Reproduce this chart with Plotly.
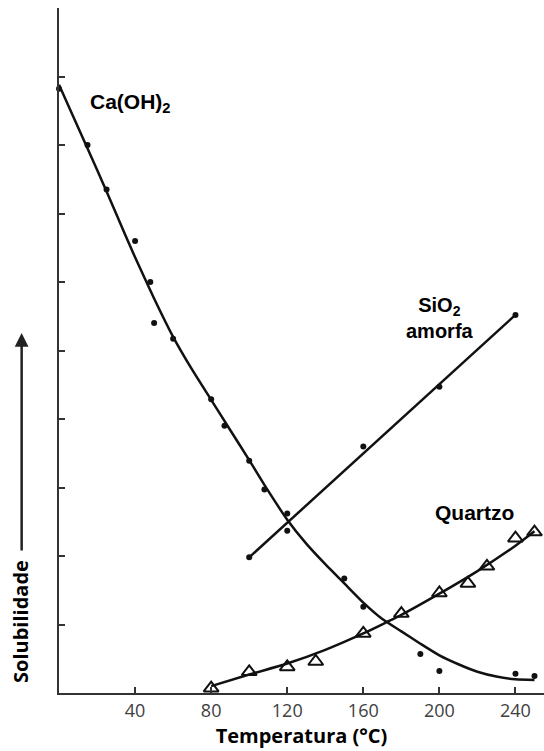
import plotly.graph_objects as go

# Measured solubility points (relative units) vs temperature (°C)
caoh2_t = [0, 15, 25, 40, 48, 50, 60, 80, 87, 100, 108, 120, 150, 160, 190, 200, 240, 250]
caoh2_s = [8.82, 8.0, 7.35, 6.60, 6.0, 5.40, 5.17, 4.29, 3.90, 3.39, 2.97, 2.62, 1.67, 1.26, 0.57, 0.32, 0.28, 0.25]

sio2_t = [100, 120, 160, 200, 240]
sio2_s = [1.98, 2.37, 3.60, 4.47, 5.52]

quartz_t = [80, 100, 120, 135, 160, 180, 200, 215, 225, 240, 250]
quartz_s = [0.07, 0.31, 0.38, 0.46, 0.87, 1.16, 1.46, 1.60, 1.85, 2.26, 2.35]

# Smoothed trend curves
caoh2_fit_t = [0, 10, 20, 30, 40, 50, 60, 70, 80, 90, 100, 110, 120, 130, 140,
               150, 160, 170, 180, 190, 200, 210, 220, 230, 240, 250]
caoh2_fit_s = [8.88, 8.26, 7.64, 7.00, 6.36, 5.76, 5.20, 4.72, 4.28, 3.84, 3.40, 2.95, 2.53,
               2.18, 1.88, 1.60, 1.32, 1.08, 0.90, 0.72, 0.55, 0.42, 0.31, 0.24, 0.20, 0.19]

sio2_fit_t = [100, 240]
sio2_fit_s = [1.98, 5.52]

quartz_fit_t = [80, 100, 120, 140, 160, 172, 180, 200, 220, 240, 250]
quartz_fit_s = [0.10, 0.27, 0.43, 0.63, 0.87, 1.03, 1.14, 1.45, 1.78, 2.15, 2.36]

x_ticks = [40, 80, 120, 160, 200, 240]
y_ticks = [1, 2, 3, 4, 5, 6, 7, 8, 9, 10]

INK = "#111111"
AXIS = "#333333"

fig = go.Figure()

fig.add_trace(go.Scatter(x=caoh2_fit_t, y=caoh2_fit_s, mode="lines",
                         line=dict(color=INK, width=2.5, shape="spline", smoothing=0.6),
                         hoverinfo="skip"))
fig.add_trace(go.Scatter(x=sio2_fit_t, y=sio2_fit_s, mode="lines",
                         line=dict(color=INK, width=2.5), hoverinfo="skip"))
fig.add_trace(go.Scatter(x=quartz_fit_t, y=quartz_fit_s, mode="lines",
                         line=dict(color=INK, width=2.5, shape="spline", smoothing=0.8),
                         hoverinfo="skip"))

fig.add_trace(go.Scatter(x=caoh2_t, y=caoh2_s, mode="markers", cliponaxis=False,
                         marker=dict(symbol="circle", size=6, color=INK)))
fig.add_trace(go.Scatter(x=sio2_t, y=sio2_s, mode="markers", cliponaxis=False,
                         marker=dict(symbol="circle", size=6, color=INK)))
fig.add_trace(go.Scatter(x=quartz_t, y=quartz_s, mode="markers", cliponaxis=False,
                         marker=dict(symbol="triangle-up-open", size=13, color=INK,
                                     line=dict(width=2, color=INK))))

label_font = dict(family="Liberation Sans, Arial, sans-serif", size=21, color="#000000")

fig.add_annotation(x=15, y=8.62, text="<b>Ca(OH)<sub>2</sub></b>", showarrow=False,
                   xanchor="left", yanchor="middle", font=label_font)
fig.add_annotation(x=200.5, y=5.47, text="<b>SiO<sub>2</sub><br>amorfa</b>", showarrow=False,
                   xanchor="center", yanchor="middle", align="center",
                   font=dict(label_font, size=20))
fig.add_annotation(x=218.5, y=2.64, text="<b>Quartzo</b>", showarrow=False,
                   xanchor="center", yanchor="middle", font=label_font)

# Vertical axis caption with an upward arrow
fig.add_annotation(xref="paper", yref="paper", x=-0.078, y=0.104,
                   text="<b>Solubilidade</b>", textangle=-90, showarrow=False,
                   xanchor="center", yanchor="middle",
                   font=dict(family="Open Sans, sans-serif", size=20, color="#000000"))
fig.add_annotation(xref="paper", yref="paper", x=-0.077, y=0.5255,
                   axref="pixel", ayref="pixel", ax=0, ay=219, text="",
                   showarrow=True, arrowhead=2, arrowsize=1.1, arrowwidth=2.5,
                   arrowcolor="#222222")

fig.update_layout(
    width=544, height=751,
    margin=dict(l=59, r=0, t=8, b=58),
    paper_bgcolor="white", plot_bgcolor="white",
    showlegend=False,
    xaxis=dict(range=[0, 255], tickvals=x_ticks, ticktext=[str(v) for v in x_ticks],
               showline=True, linecolor=AXIS, linewidth=2, ticks="inside",
               ticklen=6, tickwidth=2, tickcolor=AXIS, showgrid=False, zeroline=False,
               tickfont=dict(family="Open Sans, sans-serif", size=18, color="#404040"),
               title=dict(text="<b>Temperatura (°C)</b>", standoff=4,
                          font=dict(family="Open Sans, sans-serif", size=20, color="#000000"))),
    yaxis=dict(range=[0, 10], tickvals=y_ticks, showticklabels=False,
               showline=True, linecolor=AXIS, linewidth=2, ticks="inside",
               ticklen=6, tickwidth=2, tickcolor=AXIS, showgrid=False, zeroline=False),
)

fig.write_html("out.html")
